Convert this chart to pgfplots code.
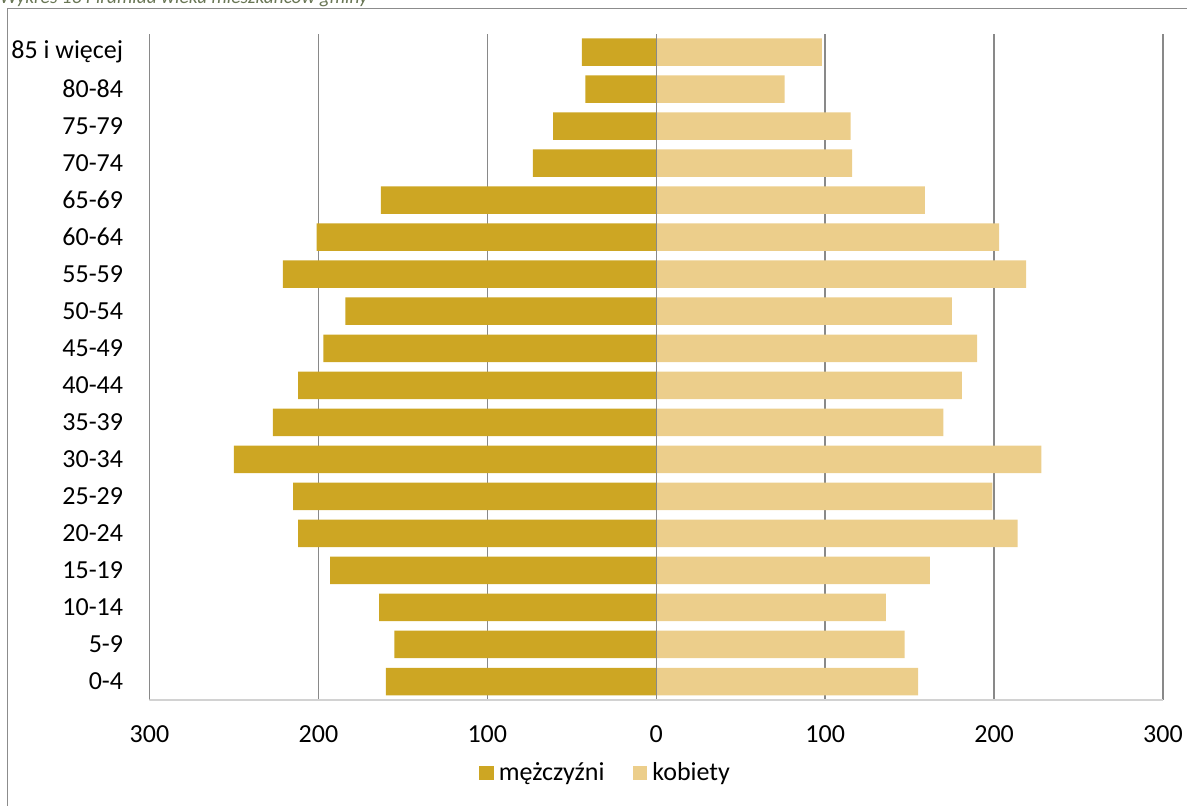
\documentclass[border=0pt]{standalone}
\usepackage{pgfplots}
\pgfplotsset{compat=1.18}
\usepackage{fontspec}
\setmainfont{Carlito}
\definecolor{men}{RGB}{205,166,35}
\definecolor{women}{RGB}{236,206,139}
\definecolor{gridc}{RGB}{137,137,137}
\definecolor{framec}{RGB}{140,140,140}
\definecolor{axisc}{RGB}{210,210,210}
\definecolor{titlec}{RGB}{105,118,85}
\begin{document}
\begin{tikzpicture}
\fontsize{13}{15.6}\selectfont
% frame and title
\draw[framec, line width=0.75pt] (3.65pt,-430pt) -- (3.65pt,-4.15pt) -- (640pt,-4.15pt);
\node[anchor=base west, inner sep=0pt, text=titlec, font=\fontsize{9.7}{11.6}\selectfont\itshape] at (-0.3pt,-1.6pt) {Wykres 13 Piramida wieku mieszkańców gminy};
\begin{axis}[
  scale only axis,
  width=506.75pt, height=333.25pt,
  at={(74.75pt,-350pt)}, anchor=south west,
  xbar, bar shift=0pt, bar width=13.75pt,
  xmin=-300, xmax=300, ymin=-0.5, ymax=17.5,
  xtick={-300,-200,-100,0,100,200,300},
  xticklabels={300,200,100,0,100,200,300},
  ytick={0,...,17},
  yticklabels={0-4,5-9,10-14,15-19,20-24,25-29,30-34,35-39,40-44,45-49,50-54,55-59,60-64,65-69,70-74,75-79,80-84,85 i więcej},
  /pgf/number format/assume math mode=true,
  major tick length=0pt,
  axis line style={draw=none},
  xmajorgrids, major grid style={gridc, line width=0.75pt},
  ymajorgrids=false,
  xticklabel style={inner sep=0pt, yshift=-12.5pt, font=\fontsize{13}{15.6}\selectfont},
  yticklabel style={inner sep=0pt, xshift=-13pt, anchor=east, font=\fontsize{13}{15.6}\selectfont},
  legend columns=2,
  legend style={at={(axis description cs:0.4514,-0.1095)}, anchor=center, draw=none, fill=none,
    font=\fontsize{13}{15.6}\selectfont,
    nodes={inner xsep=2.5pt},
    /tikz/every even column/.append style={column sep=11.5pt}},
  legend image code/.code={\fill[#1] (0pt,-3.6pt) rectangle (7.4pt,3.6pt);},
  legend cell align=left,
]
\addplot[fill=men, draw=none] coordinates {
(-160,0) (-155,1) (-164,2) (-193,3) (-212,4) (-215,5) (-250,6) (-227,7) (-212,8)
(-197,9) (-184,10) (-221,11) (-201,12) (-163,13) (-73,14) (-61,15) (-42,16) (-44,17)};
\addlegendentry{mężczyźni}
\addplot[fill=women, draw=none] coordinates {
(155,0) (147,1) (136,2) (162,3) (214,4) (199,5) (228,6) (170,7) (181,8)
(190,9) (175,10) (219,11) (203,12) (159,13) (116,14) (115,15) (76,16) (98,17)};
\addlegendentry{kobiety}
\draw[gridc, line width=0.75pt] (axis cs:0,-0.5) -- (axis cs:0,17.5);
\draw[axisc, line width=0.75pt] (axis cs:-300,-0.5) -- (axis cs:300,-0.5);
\end{axis}
\pgfresetboundingbox
\path[use as bounding box] (0pt,0pt) rectangle (593.5pt,-402.5pt);
\end{tikzpicture}
\end{document}
